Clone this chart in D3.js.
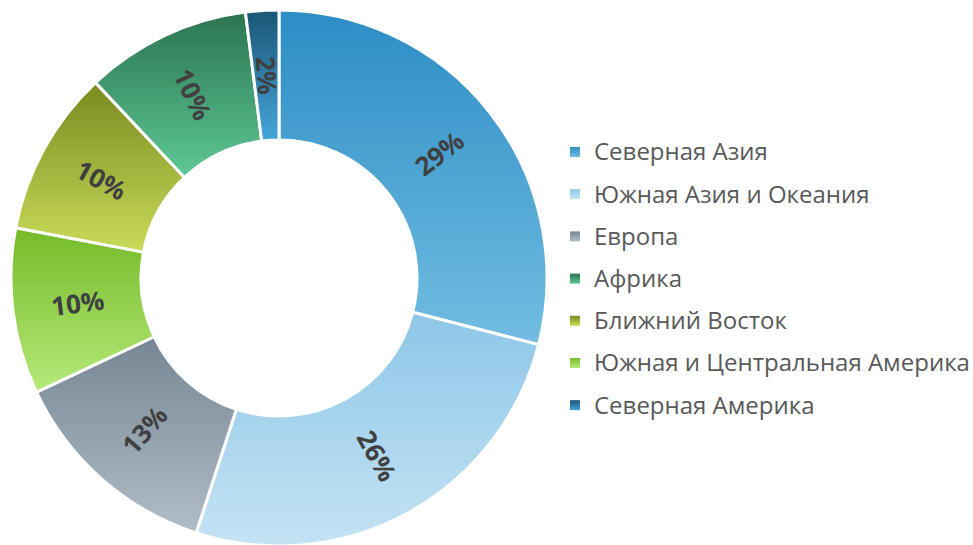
<!DOCTYPE html>
<html>
<head>
<meta charset="utf-8">
<script src="https://cdn.jsdelivr.net/npm/d3@7"></script>
<style>
  body { margin: 0; background: #fff; }
  svg { display: block; }
</style>
</head>
<body>
<div id="chart"></div>
<script>
// slices, clockwise from 12 o'clock
const sliceNames = ["Северная Азия", "Южная Азия и Океания", "Европа",
    "Южная и Центральная Америка", "Ближний Восток", "Африка", "Северная Америка"]
const sliceValues = [29, 26, 13, 10, 10, 10, 2]

// legend order
const legendNames = ["Северная Азия", "Южная Азия и Океания", "Европа", "Африка",
    "Ближний Восток", "Южная и Центральная Америка", "Северная Америка"]

const colorTop = {
    "Северная Азия": "#2c8dc5",
    "Южная Азия и Океания": "#8ec7e7",
    "Европа": "#768694",
    "Южная и Центральная Америка": "#75bb29",
    "Ближний Восток": "#798a1f",
    "Африка": "#2b7450",
    "Северная Америка": "#1b5676"
}
const colorBottom = {
    "Северная Азия": "#72bde1",
    "Южная Азия и Океания": "#c4e3f4",
    "Европа": "#b1bdc7",
    "Южная и Центральная Америка": "#b5e979",
    "Ближний Восток": "#cadb5a",
    "Африка": "#5ec896",
    "Северная Америка": "#45a6da"
}

const width = 973
const height = 545
const cx = 279, cy = 278
const outerR = 268, innerR = 138

const svg = d3.select("#chart")
    .append("svg")
    .attr("width", width)
    .attr("height", height)

const defs = svg.append("defs")
sliceNames.forEach(function (name, i) {
    const g = defs.append("linearGradient")
        .attr("id", "grad" + i)
        .attr("x1", 0).attr("y1", 0)
        .attr("x2", 0).attr("y2", 1)
    g.append("stop").attr("offset", "0%").attr("stop-color", colorTop[name])
    g.append("stop").attr("offset", "100%").attr("stop-color", colorBottom[name])
})

const pie = d3.pie().sort(null).value(d => d.value)
const arcs = pie(sliceNames.map((n, i) => ({ name: n, value: sliceValues[i], idx: i })))

const arc = d3.arc().innerRadius(innerR).outerRadius(outerR)

const gPie = svg.append("g").attr("transform", `translate(${cx},${cy})`)

gPie.selectAll("path")
    .data(arcs)
    .enter()
    .append("path")
    .attr("d", arc)
    .attr("fill", d => `url(#grad${d.data.idx})`)
    .attr("stroke", "#fff")
    .attr("stroke-width", 3)
    .attr("stroke-linejoin", "round")

// labels, rotated along the radius
const labelR = (innerR + outerR) / 2
gPie.selectAll("text")
    .data(arcs)
    .enter()
    .append("text")
    .attr("transform", function (d) {
        const mid = (d.startAngle + d.endAngle) / 2
        const x = Math.sin(mid) * labelR
        const y = -Math.cos(mid) * labelR
        let rot = mid * 180 / Math.PI - 90
        if (rot > 90) rot -= 180
        if (rot < -90) rot += 180
        return `translate(${x},${y}) rotate(${rot})`
    })
    .attr("text-anchor", "middle")
    .attr("dy", "0.36em")
    .style("font-family", "'Open Sans', sans-serif")
    .style("font-weight", "700")
    .style("font-size", "26px")
    .style("fill", "#404040")
    .text(d => d.data.value + "%")

// legend
const legend = svg.append("g").attr("transform", "translate(570,152)")
const item = legend.selectAll("g")
    .data(legendNames)
    .enter()
    .append("g")
    .attr("transform", (d, i) => `translate(0,${i * 42.2})`)

legendNames.forEach(function (name, i) {
    const g = defs.append("linearGradient")
        .attr("id", "lgrad" + i)
        .attr("x1", 0).attr("y1", 0)
        .attr("x2", 0).attr("y2", 1)
    g.append("stop").attr("offset", "0%").attr("stop-color", colorTop[name])
    g.append("stop").attr("offset", "100%").attr("stop-color", colorBottom[name])
})

item.append("rect")
    .attr("x", 0)
    .attr("y", -5)
    .attr("width", 10)
    .attr("height", 10)
    .attr("fill", (d, i) => `url(#lgrad${i})`)

item.append("text")
    .attr("x", 24)
    .attr("dy", "0.35em")
    .style("font-family", "'Open Sans', sans-serif")
    .style("font-size", "24px")
    .style("fill", "#595959")
    .text(d => d)
</script>
</body>
</html>
